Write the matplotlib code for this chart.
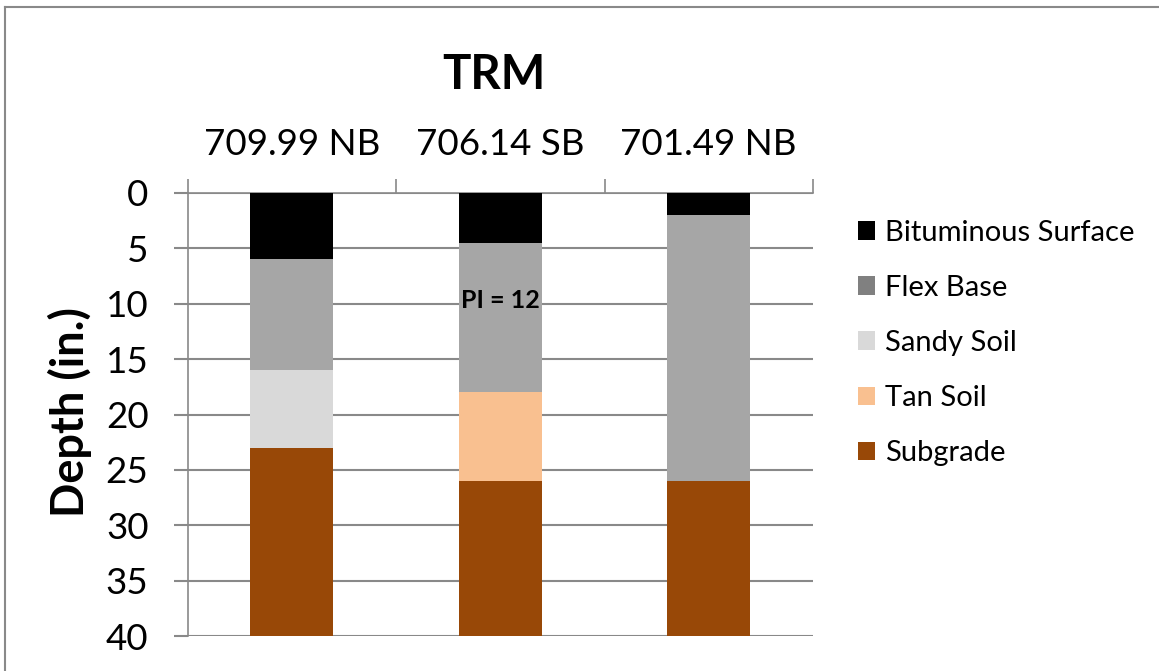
import matplotlib
matplotlib.use("Agg")
import matplotlib.pyplot as plt
from matplotlib.patches import Patch
from matplotlib.lines import Line2D
import numpy as np

plt.rcParams['font.family'] = ['Lato', 'DejaVu Sans']

sites = ['709.99 NB', '706.14 SB', '701.49 NB']
layers = ['Bituminous Surface', 'Flex Base', 'Sandy Soil', 'Tan Soil', 'Subgrade']
bituminous = [6, 4.5, 2]
flex_base = [10, 13.5, 24]
sandy_soil = [7, 0, 0]
tan_soil = [0, 8, 0]
subgrade = [17, 14, 14]
y_ticks = [0, 5, 10, 15, 20, 25, 30, 35, 40]

bar_colors = ['#000000', '#a6a6a6', '#d9d9d9', '#f9c090', '#984807']
legend_colors = ['#000000', '#808080', '#d9d9d9', '#f9c090', '#984807']

fig = plt.figure(figsize=(11.59, 6.71), dpi=100)
ax = fig.add_axes([187.5/1159, 1-636/671, (813-187.5)/1159, (636-193)/671])

x = np.arange(len(sites))
series = [bituminous, flex_base, sandy_soil, tan_soil, subgrade]
bottom = np.zeros(len(sites))
for vals, col, name in zip(series, bar_colors, layers):
    vals = np.array(vals, dtype=float)
    ax.bar(x, vals, bottom=bottom, width=0.4, color=col, zorder=3, label=name)
    bottom += vals

ax.set_xlim(-0.5, 2.5)
ax.set_ylim(40, 0)
ax.set_yticks(y_ticks)
ax.set_yticklabels([str(t) for t in y_ticks])
ax.yaxis.grid(True, color='#898989', linewidth=1.5, zorder=0)
ax.set_axisbelow(True)

# top category axis
ax.xaxis.tick_top()
ax.set_xticks([-0.5, 0.5, 1.5, 2.5])
ax.set_xticklabels([])
ax.set_xticks(x, minor=True)
ax.set_xticklabels(sites, minor=True)
ax.tick_params(axis='x', which='major', length=10, width=1.2, color='#898989', direction='out')
ax.tick_params(axis='x', which='minor', length=0, pad=23, labelsize=26.5)
ax.tick_params(axis='y', length=10, width=1.5, color='#898989', direction='out', pad=18, labelsize=26.5)

for s in ['right', 'bottom']:
    ax.spines[s].set_visible(False)
for s in ['left', 'top']:
    ax.spines[s].set_color('#898989')
    ax.spines[s].set_linewidth(1.2)

ax.set_ylabel('Depth (in.)', fontsize=32.5, fontweight='bold')
ax.yaxis.set_label_coords(-0.153, 0.505)

fig.text(494/1159, 1-75/671, 'TRM', ha='center', va='center', fontsize=34, fontweight='bold')

ax.text(1, 9.7, 'PI = 12', ha='center', va='center', fontsize=18, fontweight='bold', zorder=5)

handles = [Patch(facecolor=c, edgecolor='none') for c in legend_colors]
fig.legend(handles, layers, loc='upper left', bbox_to_anchor=(846/1159, 1-208/671),
           frameon=False, fontsize=21, handlelength=0.6, handleheight=0.6,
           handletextpad=0.35, labelspacing=1.0, borderaxespad=0)

fig.add_artist(Line2D([5/1159, 5/1159], [0, 1-7/671], transform=fig.transFigure, color='#898989', lw=1.5))
fig.add_artist(Line2D([5/1159, 1], [1-7/671, 1-7/671], transform=fig.transFigure, color='#898989', lw=1.5))

fig.savefig('out.png', dpi=100)
